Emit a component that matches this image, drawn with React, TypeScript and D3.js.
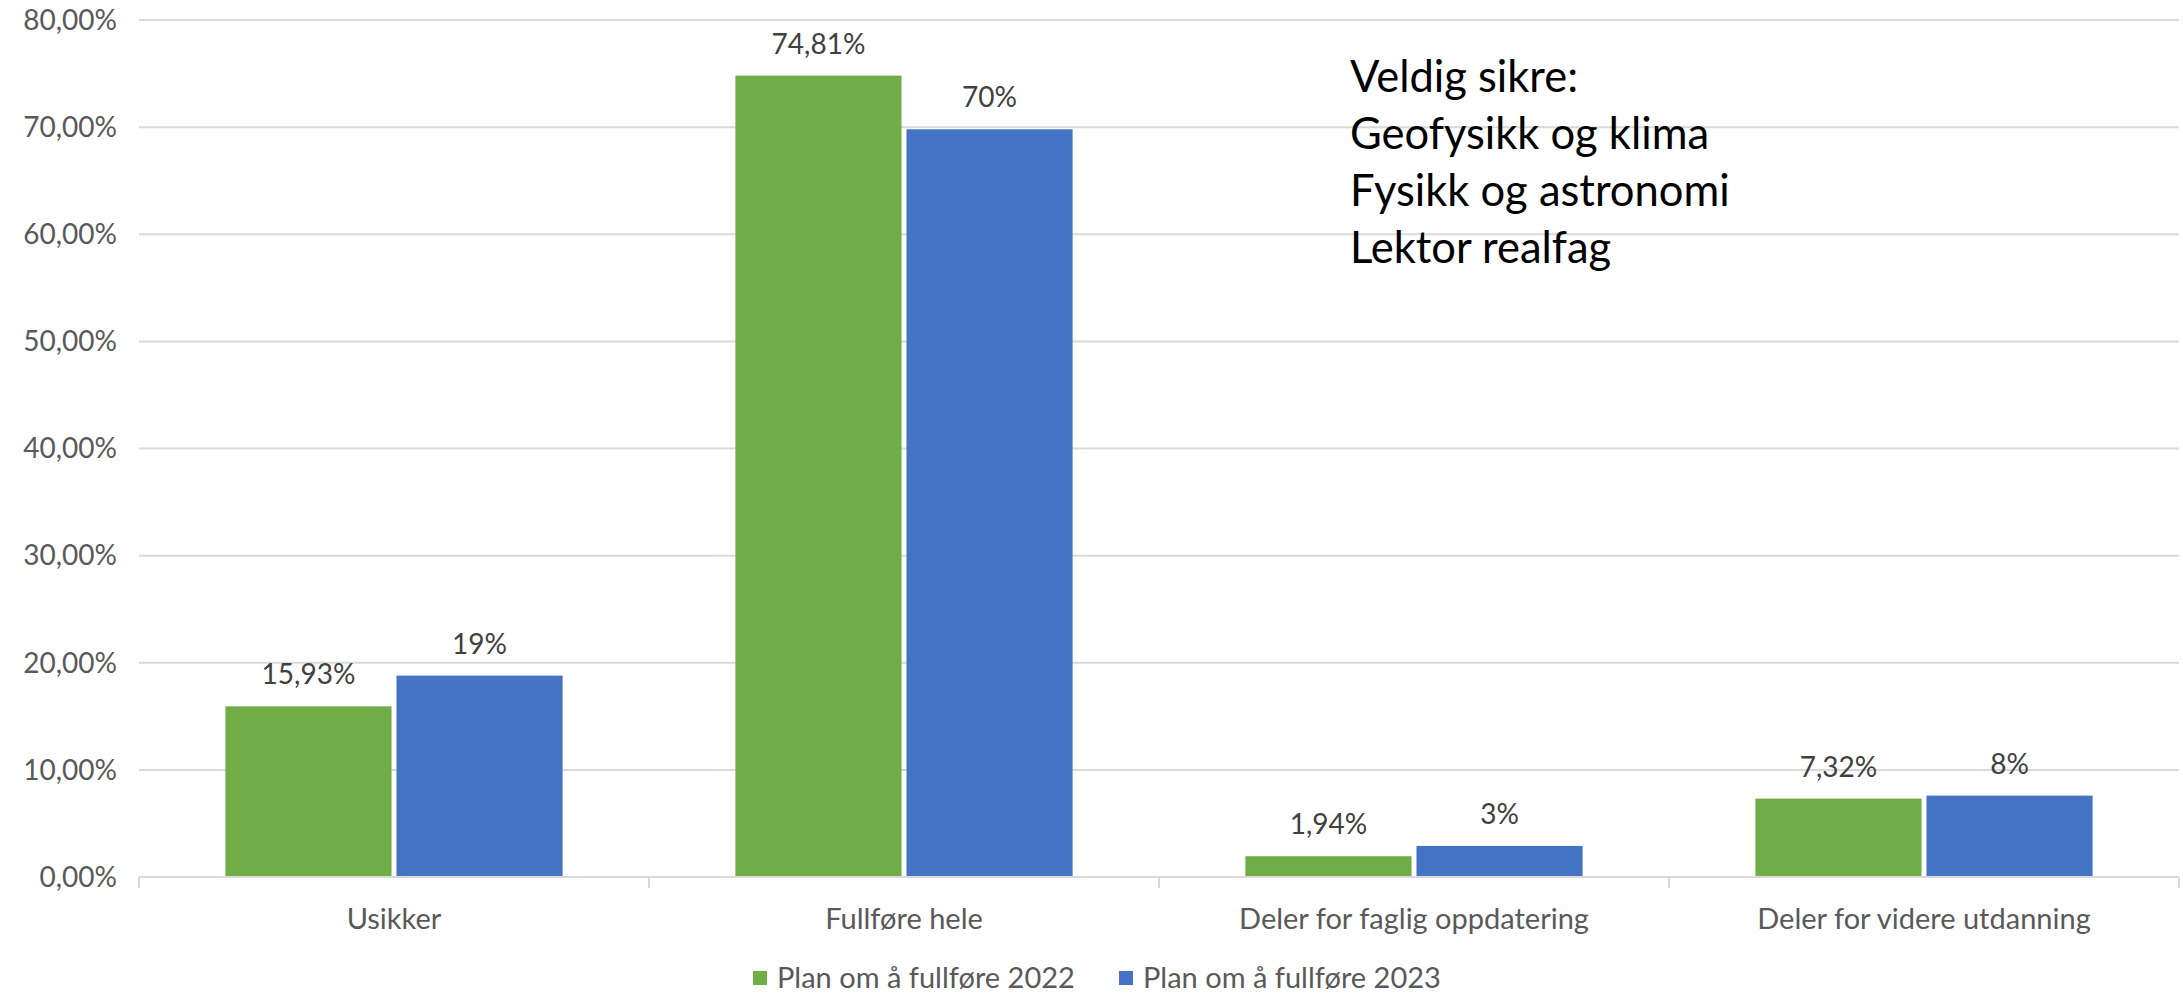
import React from "react";
import * as d3 from "d3";

const categories = ["Usikker", "Fullføre hele", "Deler for faglig oppdatering", "Deler for videre utdanning"];
const seriesNames = ["Plan om å fullføre 2022", "Plan om å fullføre 2023"];
const values2022 = [0.1593, 0.7481, 0.0194, 0.0732];
const values2023 = [0.188, 0.698, 0.029, 0.076];
const labels2022 = ["15,93%", "74,81%", "1,94%", "7,32%"];
const labels2023 = ["19%", "70%", "3%", "8%"];
const yTicks = [0, 0.1, 0.2, 0.3, 0.4, 0.5, 0.6, 0.7, 0.8];
const annotationLines = ["Veldig sikre:", "Geofysikk og klima", "Fysikk og astronomi", "Lektor realfag"];
const colors = ["#70ad47", "#4472c4"];

const W = 2183;
const H = 994;
const FONT = "Lato, 'Open Sans', sans-serif";

export default function App() {
  const left = 139;
  const right = 2179;
  const top = 20;
  const bottom = 877;

  const x0 = d3.scaleBand<string>().domain(categories).range([left, right]).padding(0);
  const x1 = d3
    .scaleBand<string>()
    .domain(seriesNames)
    .range([0, x0.bandwidth()])
    .paddingInner(0.029)
    .paddingOuter(0.505);
  const y = d3.scaleLinear().domain([0, 0.8]).range([bottom, top]);
  const fmtTick = (v: number) => (v * 100).toFixed(2).replace(".", ",") + "%";

  const series = [
    { name: seriesNames[0], values: values2022, labels: labels2022, color: colors[0] },
    { name: seriesNames[1], values: values2023, labels: labels2023, color: colors[1] },
  ];

  return (
    <div style={{ position: "absolute", left: 0, top: 0 }}>
      <svg width={W} height={H} style={{ display: "block", background: "#fff" }} fontFamily={FONT}>
        {/* gridlines */}
        {yTicks.map((t) =>
          t === 0 ? null : (
            <line key={"g" + t} x1={left} x2={right} y1={y(t)} y2={y(t)} stroke="#d9d9d9" strokeWidth={2} />
          )
        )}
        {/* y tick labels */}
        {yTicks.map((t) => (
          <text key={"yl" + t} x={117} y={y(t)} dy="0.35em" textAnchor="end" fontSize={28} fill="#595959">
            {fmtTick(t)}
          </text>
        ))}
        {/* bars */}
        {series.map((s) =>
          categories.map((c, i) => (
            <rect
              key={s.name + c}
              x={(x0(c) ?? 0) + (x1(s.name) ?? 0)}
              y={y(s.values[i])}
              width={x1.bandwidth()}
              height={bottom - y(s.values[i])}
              fill={s.color}
            />
          ))
        )}
        {/* data labels */}
        {series.map((s) =>
          categories.map((c, i) => (
            <text
              key={"dl" + s.name + c}
              x={(x0(c) ?? 0) + (x1(s.name) ?? 0) + x1.bandwidth() / 2}
              y={y(s.values[i]) - 22}
              textAnchor="middle"
              fontSize={28}
              fill="#404040"
            >
              {s.labels[i]}
            </text>
          ))
        )}
        {/* x axis */}
        <line x1={left} x2={right} y1={bottom} y2={bottom} stroke="#d9d9d9" strokeWidth={2} />
        {[...categories.map((c) => x0(c) ?? 0), right].map((xx, i) => (
          <line key={"tk" + i} x1={xx} x2={xx} y1={bottom} y2={bottom + 11} stroke="#d9d9d9" strokeWidth={2} />
        ))}
        {categories.map((c) => (
          <text
            key={"xl" + c}
            x={(x0(c) ?? 0) + x0.bandwidth() / 2}
            y={929}
            textAnchor="middle"
            fontSize={29}
            fill="#595959"
          >
            {c}
          </text>
        ))}
        {/* legend */}
        {[
          { sx: 753, tx: 777 },
          { sx: 1119, tx: 1143 },
        ].map((p, i) => (
          <g key={"lg" + i}>
            <rect x={p.sx} y={971} width={14} height={14} fill={colors[i]} />
            <text x={p.tx} y={988} fontSize={29} fill="#595959">
              {seriesNames[i]}
            </text>
          </g>
        ))}
        {/* annotation */}
        {annotationLines.map((l, i) => (
          <text key={"an" + i} x={1350} y={92 + i * 57} fontSize={43.5} fill="#000">
            {l}
          </text>
        ))}
      </svg>
    </div>
  );
}
